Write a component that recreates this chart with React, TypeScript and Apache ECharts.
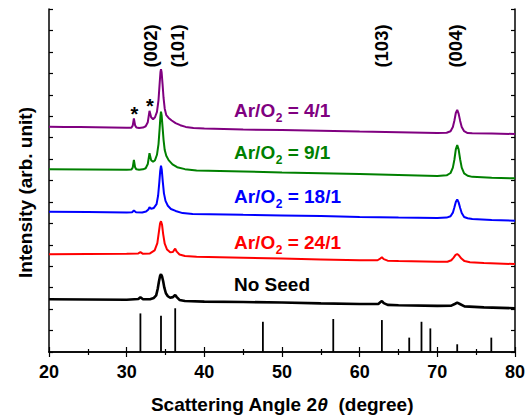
import React, { useEffect, useRef } from "react";
import * as echarts from "echarts";

// ---- data (2θ in degrees, intensity in arbitrary offset units) ----
const noSeed: [number, number][] = [
  [20, 2.46], [25, 2.45], [30, 2.44], [31.5, 2.47], [31.77, 2.55], [32.1, 2.46], [33.0, 2.46], [33.5, 2.52],
  [33.8, 2.64], [34.0, 2.95], [34.15, 3.28], [34.3, 3.55], [34.42, 3.63], [34.55, 3.53], [34.7, 3.3], [34.85, 3.0],
  [35.05, 2.74], [35.3, 2.6], [35.6, 2.53], [35.95, 2.56], [36.1, 2.61], [36.25, 2.66], [36.45, 2.56], [36.8, 2.43],
  [37.5, 2.38], [40, 2.35], [45, 2.33], [50, 2.31], [55, 2.27], [60, 2.24], [62.4, 2.24], [62.65, 2.32],
  [62.86, 2.38], [63.1, 2.28], [63.6, 2.2], [65, 2.18], [70, 2.15], [71.8, 2.16], [72.3, 2.25], [72.56, 2.3],
  [72.9, 2.24], [73.5, 2.13], [76, 2.08], [80, 2.04],
];
const ratio24: [number, number][] = [
  [20, 4.56], [25, 4.57], [30, 4.58], [31.5, 4.6], [31.77, 4.66], [32.1, 4.58], [33.0, 4.6], [33.6, 4.74],
  [33.95, 5.08], [34.15, 5.6], [34.3, 6.0], [34.42, 6.1], [34.55, 5.95], [34.7, 5.5], [34.9, 5.05], [35.2, 4.78],
  [35.6, 4.65], [35.95, 4.66], [36.1, 4.75], [36.25, 4.82], [36.45, 4.68], [36.8, 4.55], [37.5, 4.48], [39, 4.44],
  [45, 4.4], [50, 4.36], [55, 4.32], [60, 4.28], [62.3, 4.28], [62.65, 4.36], [62.86, 4.42], [63.1, 4.33],
  [63.6, 4.26], [65, 4.24], [70, 4.21], [71.3, 4.21], [71.8, 4.28], [72.1, 4.4], [72.35, 4.53], [72.56, 4.57],
  [72.8, 4.5], [73.1, 4.36], [73.5, 4.24], [74.2, 4.19], [76, 4.15], [80, 4.1],
];
const ratio18: [number, number][] = [
  [20, 6.54], [25, 6.53], [30, 6.51], [30.7, 6.52], [30.93, 6.6], [31.2, 6.52], [32.0, 6.51], [32.5, 6.55],
  [32.8, 6.65], [32.94, 6.75], [33.15, 6.68], [33.5, 6.72], [33.85, 6.9], [34.05, 7.3], [34.2, 7.9], [34.32, 8.45],
  [34.42, 8.69], [34.52, 8.5], [34.65, 7.95], [34.8, 7.4], [35.0, 7.05], [35.3, 6.82], [35.7, 6.67], [36.3, 6.58],
  [37.2, 6.48], [38.5, 6.44], [45, 6.4], [50, 6.37], [55, 6.34], [60, 6.3], [65, 6.27], [70, 6.25],
  [71.2, 6.27], [71.7, 6.33], [72.0, 6.5], [72.2, 6.75], [72.38, 7.0], [72.56, 7.12], [72.74, 6.98], [72.94, 6.72],
  [73.14, 6.48], [73.45, 6.3], [73.9, 6.24], [74.5, 6.2], [77, 6.16], [80, 6.12],
];
const ratio9: [number, number][] = [
  [20, 8.52], [25, 8.51], [30, 8.5], [30.6, 8.51], [30.78, 8.6], [30.93, 8.96], [31.08, 8.62], [31.25, 8.52],
  [31.6, 8.5], [32.1, 8.52], [32.45, 8.57], [32.72, 8.77], [32.94, 9.27], [33.15, 8.95], [33.4, 8.87], [33.65, 8.95],
  [33.9, 9.2], [34.1, 9.7], [34.25, 10.45], [34.35, 11.0], [34.42, 11.21], [34.5, 11.05], [34.62, 10.5], [34.75, 9.9],
  [34.9, 9.42], [35.1, 9.15], [35.4, 8.95], [35.9, 8.75], [36.5, 8.62], [37.5, 8.53], [39, 8.47], [45, 8.42],
  [50, 8.37], [55, 8.34], [60, 8.3], [65, 8.26], [70, 8.21], [71.2, 8.24], [71.7, 8.35], [72.0, 8.6],
  [72.2, 8.98], [72.38, 9.45], [72.56, 9.65], [72.74, 9.45], [72.94, 8.98], [73.14, 8.6], [73.45, 8.33], [73.9, 8.22],
  [74.5, 8.17], [77, 8.13], [80, 8.1],
];
const ratio4: [number, number][] = [
  [20, 10.51], [22, 10.5], [24, 10.49], [26, 10.48], [28, 10.47], [30, 10.46], [30.6, 10.46], [30.78, 10.56],
  [30.93, 10.9], [31.08, 10.58], [31.25, 10.47], [31.6, 10.45], [32.1, 10.47], [32.45, 10.53], [32.72, 10.72], [32.94, 11.25],
  [33.15, 10.95], [33.4, 10.86], [33.65, 10.95], [33.9, 11.2], [34.1, 11.75], [34.25, 12.55], [34.35, 13.05], [34.42, 13.19],
  [34.5, 13.05], [34.62, 12.5], [34.75, 11.85], [34.9, 11.35], [35.1, 11.05], [35.4, 10.92], [35.8, 10.8], [36.3, 10.68],
  [36.9, 10.58], [37.6, 10.5], [38.6, 10.45], [40, 10.42], [45, 10.38], [50, 10.35], [55, 10.32], [60, 10.28],
  [65, 10.25], [70, 10.22], [71.2, 10.23], [71.7, 10.3], [72.0, 10.5], [72.2, 10.8], [72.38, 11.15], [72.56, 11.29],
  [72.74, 11.12], [72.94, 10.78], [73.14, 10.5], [73.45, 10.3], [73.9, 10.21], [74.5, 10.2], [77, 10.19], [80, 10.17],
];
// reference pattern (stick positions / heights)
const stickPos = [31.77, 34.42, 36.25, 47.54, 56.6, 62.86, 66.38, 67.96, 69.1, 72.56, 76.95];
const stickHeight = [1.8, 1.69, 2.04, 1.41, 1.54, 1.49, 0.67, 1.41, 1.1, 0.36, 0.67];

const traceColors = ["#000000", "#FF0000", "#0000FF", "#008000", "#800080"];
const traceNames = ["No Seed", "Ar/O2 = 24/1", "Ar/O2 = 18/1", "Ar/O2 = 9/1", "Ar/O2 = 4/1"];
const traces = [noSeed, ratio24, ratio18, ratio9, ratio4];
const labelRatios = ["", "24/1", "18/1", "9/1", "4/1"];
const hklLabels = ["(002)", "(101)", "(103)", "(004)"];

const FONT = '"Liberation Sans", Arial, Helvetica, sans-serif';

export default function App() {
  const ref = useRef<HTMLDivElement>(null);
  useEffect(() => {
    if (!ref.current) return;
    const chart = echarts.init(ref.current, undefined, { renderer: "svg" });
    const canvas = document.createElement("canvas");
    const ctx = canvas.getContext("2d")!;
    const tw = (s: string, size: number) => {
      ctx.font = `bold ${size}px ${FONT}`;
      return ctx.measureText(s).width;
    };

    const fs = 19;
    const subFs = 12;
    const labelX = 234;
    const baselines = [290.7, 249.3, 202.7, 159.3, 117];
    const graphics: any[] = [];
    traceNames.forEach((name, i) => {
      const color = traceColors[i];
      const yMid = baselines[i] - 0.3465 * fs;
      if (i === 0) {
        graphics.push({
          type: "text", x: labelX, y: yMid, silent: true,
          style: { text: name, fill: color, font: `bold ${fs}px ${FONT}`, align: "left", verticalAlign: "middle" },
        });
      } else {
        const w1 = tw("Ar/O", fs);
        const w2 = tw("2", subFs);
        graphics.push({
          type: "text", x: labelX, y: yMid, silent: true,
          style: { text: "Ar/O", fill: color, font: `bold ${fs}px ${FONT}`, align: "left", verticalAlign: "middle" },
        });
        graphics.push({
          type: "text", x: labelX + w1 + 0.5, y: baselines[i] + 5 - 0.3465 * subFs, silent: true,
          style: { text: "2", fill: color, font: `bold ${subFs}px ${FONT}`, align: "left", verticalAlign: "middle" },
        });
        graphics.push({
          type: "text", x: labelX + w1 + w2 + 0.5, y: yMid, silent: true,
          style: { text: " = " + labelRatios[i], fill: color, font: `bold ${fs}px ${FONT}`, align: "left", verticalAlign: "middle" },
        });
      }
    });
    const hklX = [150.8, 177.9, 381, 455.7];
    hklLabels.forEach((t, i) => {
      graphics.push({
        type: "text", x: hklX[i], y: 46, rotation: Math.PI / 2, silent: true,
        style: { text: t, fill: "#000", font: `bold 18.5px ${FONT}`, align: "center", verticalAlign: "middle" },
      });
    });
    // asterisks marking substrate peaks
    [[134.3, 114], [150, 106]].forEach(([x, y]) => {
      graphics.push({
        type: "text", x, y, silent: true,
        style: { text: "*", fill: "#000", font: `bold 20px ${FONT}`, align: "center", verticalAlign: "middle" },
      });
    });
    // axis titles
    graphics.push({
      type: "text", x: 25, y: 192.5, rotation: Math.PI / 2, silent: true,
      style: { text: "Intensity (arb. unit)", fill: "#000", font: `bold ${fs}px ${FONT}`, align: "center", verticalAlign: "middle" },
    });
    graphics.push({
      type: "text", x: 282, y: 404, silent: true,
      style: {
        text: "{a|Scattering Angle 2}{b|θ}{a|  (degree)}",
        align: "center", verticalAlign: "middle",
        rich: {
          a: { fontSize: fs, fontWeight: "bold", fontFamily: FONT, fill: "#000" },
          b: { fontSize: fs, fontWeight: "bold", fontStyle: "italic", fontFamily: FONT, fill: "#000" },
        },
      },
    });

    const axisLine = { show: true, lineStyle: { color: "#000", width: 1.5 } };
    const xCommon = {
      type: "value" as const, min: 20, max: 80, interval: 10,
      axisLine,
      axisTick: { show: true, inside: true, length: 5, lineStyle: { color: "#000", width: 1.2 } },
      minorTick: { show: true, splitNumber: 2, length: 3, lineStyle: { color: "#000", width: 1.2 } },
      splitLine: { show: false },
    };
    const yCommon = {
      type: "value" as const, min: 0, max: 16, interval: 1,
      axisLine,
      axisTick: { show: true, inside: true, length: 4, lineStyle: { color: "#000", width: 1.2 } },
      axisLabel: { show: false },
      splitLine: { show: false },
    };

    chart.setOption({
      animation: false,
      backgroundColor: "#fff",
      grid: { left: 49, right: 16, top: 9, bottom: 67, containLabel: false },
      xAxis: [
        { ...xCommon, position: "bottom",
          axisLabel: { show: true, color: "#000", fontSize: 18, fontWeight: "bold", fontFamily: FONT, margin: 11 } },
        { ...xCommon, position: "top", axisLabel: { show: false } },
      ],
      yAxis: [
        { ...yCommon, position: "left" },
        { ...yCommon, position: "right" },
      ],
      series: [
        ...traces.map((d, i) => ({
          type: "line", name: traceNames[i], data: d, xAxisIndex: 0, yAxisIndex: 0,
          showSymbol: false, symbol: "none", smooth: false,
          lineStyle: { color: traceColors[i], width: i === 0 ? 2.6 : 2 },
          z: 3,
        })),
        {
          type: "bar", name: "reference", xAxisIndex: 0, yAxisIndex: 0,
          data: stickPos.map((p, i) => [p, stickHeight[i]]),
          barWidth: 1.8, itemStyle: { color: "#000" }, z: 2,
        },
      ],
      graphic: graphics,
    });
    return () => chart.dispose();
  }, []);
  return <div ref={ref} style={{ position: "fixed", left: 0, top: 0, width: 531, height: 419 }} />;
}
